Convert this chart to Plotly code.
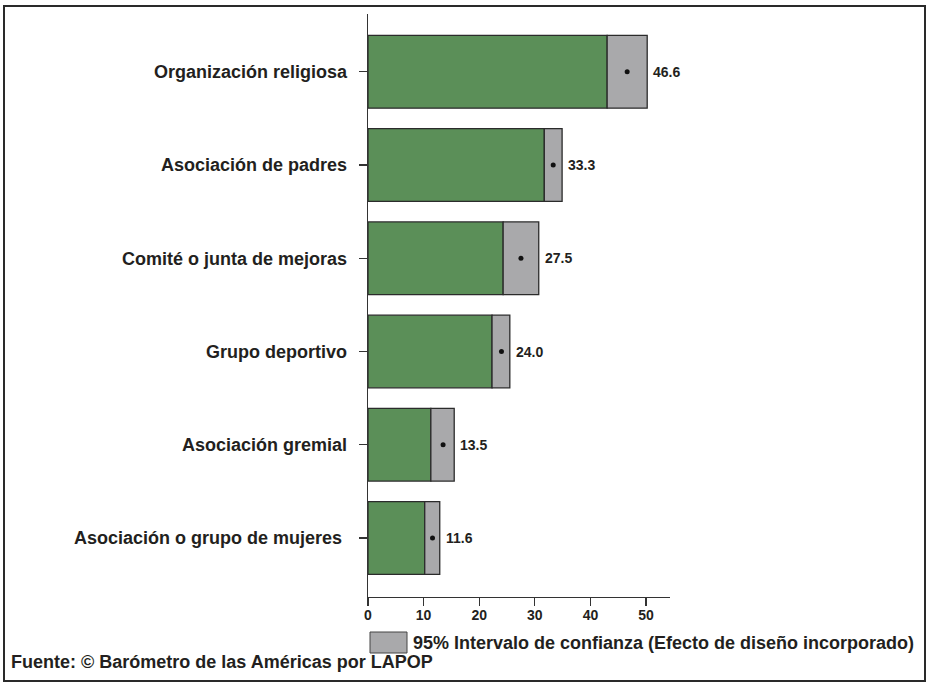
import plotly.graph_objects as go

categories = [
    "Organización religiosa",
    "Asociación de padres",
    "Comité o junta de mejoras",
    "Grupo deportivo",
    "Asociación gremial",
    "Asociación o grupo de mujeres ",
]
means = [46.6, 33.3, 27.5, 24.0, 13.5, 11.6]
lower = [43.0, 31.7, 24.3, 22.3, 11.3, 10.2]
upper = [50.2, 34.9, 30.7, 25.5, 15.5, 12.9]
x_ticks = [0, 10, 20, 30, 40, 50]
legend_label = "95% Intervalo de confianza (Efecto de diseño incorporado)"
source_label = "Fuente: © Barómetro de las Américas por LAPOP"

FONT = "Liberation Sans, Arial, Helvetica, sans-serif"
TXT = "#231f20"
GREEN = "#5b8f58"
GRAY = "#a9a9ab"
EDGE = "#2b2b2b"

W, H = 928, 685
L, R, T, B = 368, 258, 14, 88
PW, PH = W - L - R, H - T - B

def px(x):
    return (x - L) / PW

def py(y):
    return (H - B - y) / PH

fig = go.Figure()

fig.add_trace(go.Bar(
    y=categories, x=lower, orientation="h",
    marker=dict(color=GREEN, line=dict(color=EDGE, width=1.3)),
    width=0.78, showlegend=False, hoverinfo="skip",
))
fig.add_trace(go.Bar(
    y=categories, x=[u - l for u, l in zip(upper, lower)], base=lower,
    orientation="h",
    marker=dict(color=GRAY, line=dict(color=EDGE, width=1.3)),
    width=0.78, showlegend=False, hoverinfo="skip",
))
fig.add_trace(go.Scatter(
    y=categories, x=means, mode="markers",
    marker=dict(color="#111111", size=5),
    showlegend=False, hoverinfo="skip",
))

value_annotations = [
    dict(x=u, y=c, xref="x", yref="y", text=f"{m:.1f}",
         xanchor="left", yanchor="middle", xshift=4, showarrow=False,
         font=dict(family=FONT, size=14, color=TXT, weight="bold"))
    for c, m, u in zip(categories, means, upper)
]

fig.update_layout(
    width=W, height=H,
    margin=dict(l=L, r=R, t=T, b=B, pad=0),
    paper_bgcolor="white", plot_bgcolor="white",
    barmode="overlay",
    font=dict(family=FONT, color=TXT),
    xaxis=dict(
        range=[0, 54.3], tickvals=x_ticks, showgrid=False, zeroline=False,
        showline=True, linecolor="#333333", linewidth=1.3,
        ticks="outside", ticklen=8, tickcolor="#333333", tickwidth=1.3,
        tickfont=dict(family=FONT, size=14, color=TXT, weight="bold"),
        ticklabelstandoff=-3,
        fixedrange=True,
    ),
    yaxis=dict(
        categoryorder="array", categoryarray=categories[::-1],
        range=[-0.633, 5.62], showgrid=False, zeroline=False,
        showline=True, linecolor="#333333", linewidth=1.3,
        ticks="outside", ticklen=8, tickcolor="#333333", tickwidth=1.3,
        tickfont=dict(family=FONT, size=18, color=TXT, weight="bold"),
        ticklabelstandoff=8,
        fixedrange=True,
    ),
    shapes=[
        dict(type="rect", xref="paper", yref="paper",
             x0=px(4), x1=px(925), y0=py(681), y1=py(6),
             line=dict(color="#2a2a2a", width=2), fillcolor="rgba(0,0,0,0)",
             layer="below"),
        dict(type="rect", xref="paper", yref="paper",
             x0=px(370), x1=px(407), y0=py(653), y1=py(632),
             line=dict(color="#444444", width=1), fillcolor=GRAY),
    ],
    annotations=value_annotations + [
        dict(text=legend_label, xref="paper", yref="paper",
             x=px(411), y=py(643), xanchor="left", yanchor="middle",
             showarrow=False,
             font=dict(family=FONT, size=18, color=TXT, weight="bold")),
        dict(text=source_label, xref="paper", yref="paper",
             x=px(9), y=py(662), xanchor="left", yanchor="middle",
             showarrow=False,
             font=dict(family=FONT, size=18, color=TXT, weight="bold")),
    ],
)

fig.write_html(
    "out.html",
    config={"displayModeBar": False, "staticPlot": True},
    post_script="document.body.style.margin='0';document.body.style.padding='0';",
)
